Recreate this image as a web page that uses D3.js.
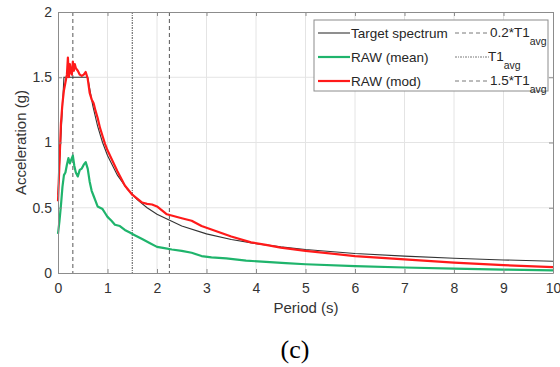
<!DOCTYPE html>
<html><head><meta charset="utf-8">
<script src="https://cdn.jsdelivr.net/npm/d3@7/dist/d3.min.js"></script>
<style>body{margin:0;background:#fff}svg{display:block}</style>
</head><body><svg id="c" width="560" height="367"></svg>
<script>
const xTicks = [0,1,2,3,4,5,6,7,8,9,10];
const yTicks = [0,0.5,1,1.5,2];
const yTickLabels = ["0","0.5","1","1.5","2"];
const refLines = [0.3, 1.5, 2.25];
const refStyles = ["4,3", "2,1,1,1", "4,3"];

const targetT = [0,0.12,0.6,0.7,0.8,0.9,1.0,1.2,1.4,1.6,1.8,2.0,2.5,3.0,3.5,4.0,4.5,5,6,7,8,9,10];
const targetA = [0.6,1.5,1.5,1.286,1.125,1.0,0.9,0.75,0.643,0.5625,0.5,0.45,0.36,0.3,0.257,0.225,0.2,0.18,0.15,0.129,0.1125,0.1,0.09];

const meanT = [0,0.03,0.06,0.09,0.12,0.15,0.18,0.21,0.24,0.27,0.3,0.33,0.36,0.4,0.44,0.48,0.52,0.56,0.6,0.64,0.68,0.72,0.76,0.8,0.85,0.9,0.95,1.0,1.08,1.15,1.25,1.35,1.45,1.55,1.7,1.85,2.0,2.15,2.3,2.5,2.7,2.9,3.1,3.4,3.8,4.2,4.6,5,6,7,8,9,10];
const meanA = [0.3,0.4,0.52,0.66,0.75,0.77,0.83,0.88,0.84,0.87,0.9,0.82,0.77,0.74,0.79,0.8,0.83,0.85,0.8,0.7,0.63,0.59,0.55,0.51,0.5,0.49,0.46,0.43,0.4,0.37,0.36,0.33,0.31,0.29,0.26,0.23,0.2,0.19,0.18,0.17,0.155,0.13,0.12,0.112,0.095,0.085,0.075,0.067,0.053,0.042,0.033,0.026,0.02];

const modT = [0,0.03,0.06,0.09,0.12,0.15,0.18,0.2,0.22,0.24,0.26,0.28,0.3,0.32,0.34,0.36,0.4,0.44,0.48,0.52,0.56,0.6,0.64,0.68,0.72,0.76,0.8,0.85,0.9,0.95,1.0,1.1,1.2,1.35,1.5,1.6,1.7,1.8,1.9,2.0,2.1,2.2,2.35,2.5,2.7,2.9,3.2,3.5,3.9,4.2,4.5,5,6,7,8,9,10];
const modA = [0.55,0.85,1.15,1.3,1.4,1.46,1.52,1.65,1.5,1.6,1.54,1.52,1.62,1.55,1.6,1.57,1.55,1.52,1.51,1.52,1.54,1.49,1.38,1.33,1.3,1.24,1.19,1.11,1.05,0.99,0.94,0.86,0.78,0.67,0.6,0.57,0.54,0.53,0.525,0.51,0.48,0.45,0.435,0.42,0.4,0.36,0.32,0.28,0.235,0.215,0.195,0.17,0.13,0.105,0.08,0.06,0.045];

const colBlack = "#333333", colGreen = "#1fb46c", colRed = "#ff1a1a";

const svg = d3.select("#c");
const L=58, R=553, T=12, B=273;
const x = d3.scaleLinear().domain([0,10]).range([L,R]);
const y = d3.scaleLinear().domain([0,2]).range([B,T]);
const font="'Liberation Sans',Arial,sans-serif";

// grid
const g = svg.append("g");
g.selectAll(".gx").data(xTicks.slice(1,-1)).join("line")
 .attr("x1",d=>x(d)).attr("x2",d=>x(d)).attr("y1",T).attr("y2",B)
 .attr("stroke","#e4e4e4").attr("stroke-width",1);
g.selectAll(".gy").data(yTicks.slice(1,-1)).join("line")
 .attr("y1",d=>y(d)).attr("y2",d=>y(d)).attr("x1",L).attr("x2",R)
 .attr("stroke","#e4e4e4").attr("stroke-width",1);

// ref lines
svg.selectAll(".ref").data(refLines).join("line")
 .attr("x1",d=>x(d)).attr("x2",d=>x(d)).attr("y1",T).attr("y2",B)
 .attr("stroke","#444").attr("stroke-width",0.9)
 .attr("stroke-dasharray",(d,i)=>refStyles[i]);

const line = d3.line().x(d=>x(d[0])).y(d=>y(d[1]));
svg.append("path").attr("d",line(targetT.map((t,i)=>[t,targetA[i]])))
 .attr("fill","none").attr("stroke",colBlack).attr("stroke-width",1.1);
svg.append("path").attr("d",line(meanT.map((t,i)=>[t,meanA[i]])))
 .attr("fill","none").attr("stroke",colGreen).attr("stroke-width",2.2).attr("stroke-linejoin","round");
svg.append("path").attr("d",line(modT.map((t,i)=>[t,modA[i]])))
 .attr("fill","none").attr("stroke",colRed).attr("stroke-width",2.2).attr("stroke-linejoin","round");

// axes box
const axCol="#8c8c8c";
const xa = svg.append("g").attr("transform",`translate(0,${B})`)
 .call(d3.axisBottom(x).tickValues(xTicks).tickFormat(d3.format("d")).tickSizeInner(-4).tickSizeOuter(0).tickPadding(10));
const xt = svg.append("g").attr("transform",`translate(0,${T})`)
 .call(d3.axisTop(x).tickValues(xTicks).tickFormat("").tickSizeInner(-4).tickSizeOuter(0));
const ya = svg.append("g").attr("transform",`translate(${L},0)`)
 .call(d3.axisLeft(y).tickValues(yTicks).tickFormat((d,i)=>yTickLabels[i]).tickSizeInner(-4).tickSizeOuter(0).tickPadding(6));
const yr = svg.append("g").attr("transform",`translate(${R},0)`)
 .call(d3.axisRight(y).tickValues(yTicks).tickFormat("").tickSizeInner(-4).tickSizeOuter(0));
[xa,xt,ya,yr].forEach(a=>{
  a.selectAll("path,line").attr("stroke",axCol);
  a.selectAll("text").attr("fill","#333").style("font-family",font).style("font-size","14px");
});

svg.append("text").attr("x",306).attr("y",313).attr("text-anchor","middle")
 .attr("fill","#333").style("font-family",font).style("font-size","15px").text("Period (s)");
svg.append("text").attr("transform",`translate(26,${(T+B)/2}) rotate(-90)`).attr("text-anchor","middle")
 .attr("fill","#333").style("font-family",font).style("font-size","15px").text("Acceleration (g)");
svg.append("text").attr("x",295).attr("y",358).attr("text-anchor","middle")
 .attr("fill","#000").style("font-family","'Liberation Serif','Times New Roman',serif").style("font-size","26px").text("(c)");

// legend
const leg = svg.append("g");
leg.append("rect").attr("x",314).attr("y",20).attr("width",234).attr("height",71)
 .attr("fill","#fff").attr("stroke","#8c8c8c").attr("stroke-width",1);
const legL = [
 {name:"Target spectrum", col:colBlack, w:1.1},
 {name:"RAW (mean)", col:colGreen, w:2.2},
 {name:"RAW (mod)", col:colRed, w:2.2}];
const legR = [{pre:"0.2*T1", dash:"4,3"},{pre:"T1", dash:"2,1,1,1"},{pre:"1.5*T1", dash:"4,3"}];
const rowsY=[33,57,81];
legL.forEach((d,i)=>{
  leg.append("line").attr("x1",318).attr("x2",350).attr("y1",rowsY[i]).attr("y2",rowsY[i])
   .attr("stroke",d.col).attr("stroke-width",d.w);
  leg.append("text").attr("x",351).attr("y",rowsY[i]+5).attr("fill","#262626")
   .style("font-family",font).style("font-size","13.5px").text(d.name);
});
legR.forEach((d,i)=>{
  leg.append("line").attr("x1",455).attr("x2",489).attr("y1",rowsY[i]).attr("y2",rowsY[i])
   .attr("stroke","#555").attr("stroke-width",0.8).attr("stroke-dasharray",d.dash);
  const t = leg.append("text").attr("x",i===1?488:490).attr("y",rowsY[i]+4).attr("fill","#262626")
   .style("font-family",font).style("font-size","13.5px");
  t.append("tspan").text(d.pre);
  t.append("tspan").attr("dy",8).style("font-size","10.5px").text("avg");
});
</script></body></html>
